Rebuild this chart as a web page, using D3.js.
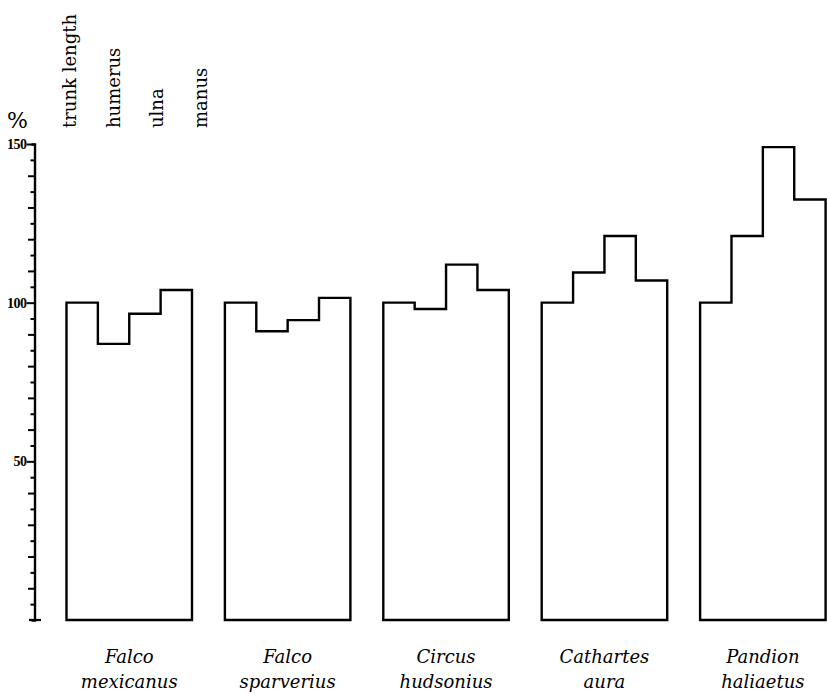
<!DOCTYPE html>
<html>
<head>
<meta charset="utf-8">
<script src="https://cdn.jsdelivr.net/npm/d3@7"></script>
<style>
  html, body { margin: 0; padding: 0; background: #fff; }
  svg { display: block; }
</style>
</head>
<body>
<svg id="chart" width="827" height="694"></svg>
<script>
// Relative lengths (% of trunk length) for five raptors
const genus   = ["Falco", "Falco", "Circus", "Cathartes", "Pandion"];
const epithet = ["mexicanus", "sparverius", "hudsonius", "aura", "haliaetus"];
const parts   = ["trunk length", "humerus", "ulna", "manus"];

const trunkLength = [100, 100, 100, 100, 100];
const humerus     = [87, 91, 98, 109.5, 121];
const ulna        = [96.5, 94.5, 112, 121, 149];
const manus       = [104, 101.5, 104, 107, 132.5];

const yTickLabels = [50, 100, 150];

const series = [trunkLength, humerus, ulna, manus];
const species = genus.map((g, i) => g + " " + epithet[i]);

const textFont = "'DejaVu Serif', serif";
const tickFont = "'Liberation Serif', serif";

const svg = d3.select("#chart");

const y = d3.scaleLinear().domain([0, 150]).range([620, 144]);
const x = d3.scaleBand().domain(species).range([66.5, 825.6]).paddingInner(0.2077).paddingOuter(0);
const xPart = d3.scaleBand().domain(parts).range([0, x.bandwidth()]).padding(0);

// Vertical axis: ticks every 5, longer every 10, labelled at 50/100/150
const axisX = 34.5;
const axis = d3.axisLeft(y)
  .tickValues(d3.range(5, 151, 5))
  .tickSizeOuter(0)
  .tickSize(3)
  .tickPadding(2)
  .tickFormat(d => yTickLabels.includes(d) ? d : "");

const gAxis = svg.append("g")
  .attr("transform", `translate(${axisX},0)`)
  .call(axis);

gAxis.select(".domain").attr("stroke", "#000").attr("stroke-width", 2.4);
gAxis.selectAll(".tick line")
  .attr("stroke", "#000")
  .attr("stroke-width", 2)
  .attr("x2", d => yTickLabels.includes(d) ? -8 : (d % 10 === 0 ? -6.5 : -4));
gAxis.selectAll(".tick text")
  .attr("x", -8)
  .attr("fill", "#000")
  .style("font-family", tickFont)
  .style("font-weight", "bold")
  .style("font-size", "14px")
  .style("letter-spacing", "-0.5px");

// Baseline foot of the axis
svg.append("line")
  .attr("x1", axisX - 5.5).attr("x2", axisX + 6.5)
  .attr("y1", y(0)).attr("y2", y(0))
  .attr("stroke", "#000").attr("stroke-width", 2.2);

// Percent sign above axis
svg.append("text")
  .attr("x", 7).attr("y", 128)
  .style("font-family", textFont)
  .style("font-size", "22px")
  .text("%");

// Rotated element headings
parts.forEach((p, i) => {
  svg.append("text")
    .attr("transform", `translate(${76 + i * 43.7},128) rotate(-90)`)
    .attr("text-anchor", "start")
    .style("font-family", textFont)
    .style("font-size", "18px")
    .text(p);
});

// Step outline for each species
const groups = svg.append("g").selectAll("g")
  .data(species)
  .join("g")
  .attr("transform", d => `translate(${x(d)},0)`);

groups.append("path")
  .attr("d", (d, i) => {
    const path = d3.path();
    path.moveTo(0, y(0));
    parts.forEach((p, j) => {
      const v = series[j][i];
      const x0 = xPart(p), x1 = x0 + xPart.bandwidth();
      path.lineTo(x0, y(v));
      path.lineTo(x1, y(v));
    });
    path.lineTo(x.bandwidth(), y(0));
    path.closePath();
    return path.toString();
  })
  .attr("fill", "none")
  .attr("stroke", "#000")
  .attr("stroke-width", 2.4)
  .attr("stroke-linejoin", "miter");

// Species names under each outline
const labels = groups.append("text")
  .attr("text-anchor", "middle")
  .style("font-family", textFont)
  .style("font-style", "italic")
  .style("font-size", "18px");

labels.append("tspan")
  .attr("x", x.bandwidth() / 2)
  .attr("y", 663)
  .text((d, i) => genus[i]);
labels.append("tspan")
  .attr("x", x.bandwidth() / 2)
  .attr("y", 688)
  .text((d, i) => epithet[i]);
</script>
</body>
</html>
